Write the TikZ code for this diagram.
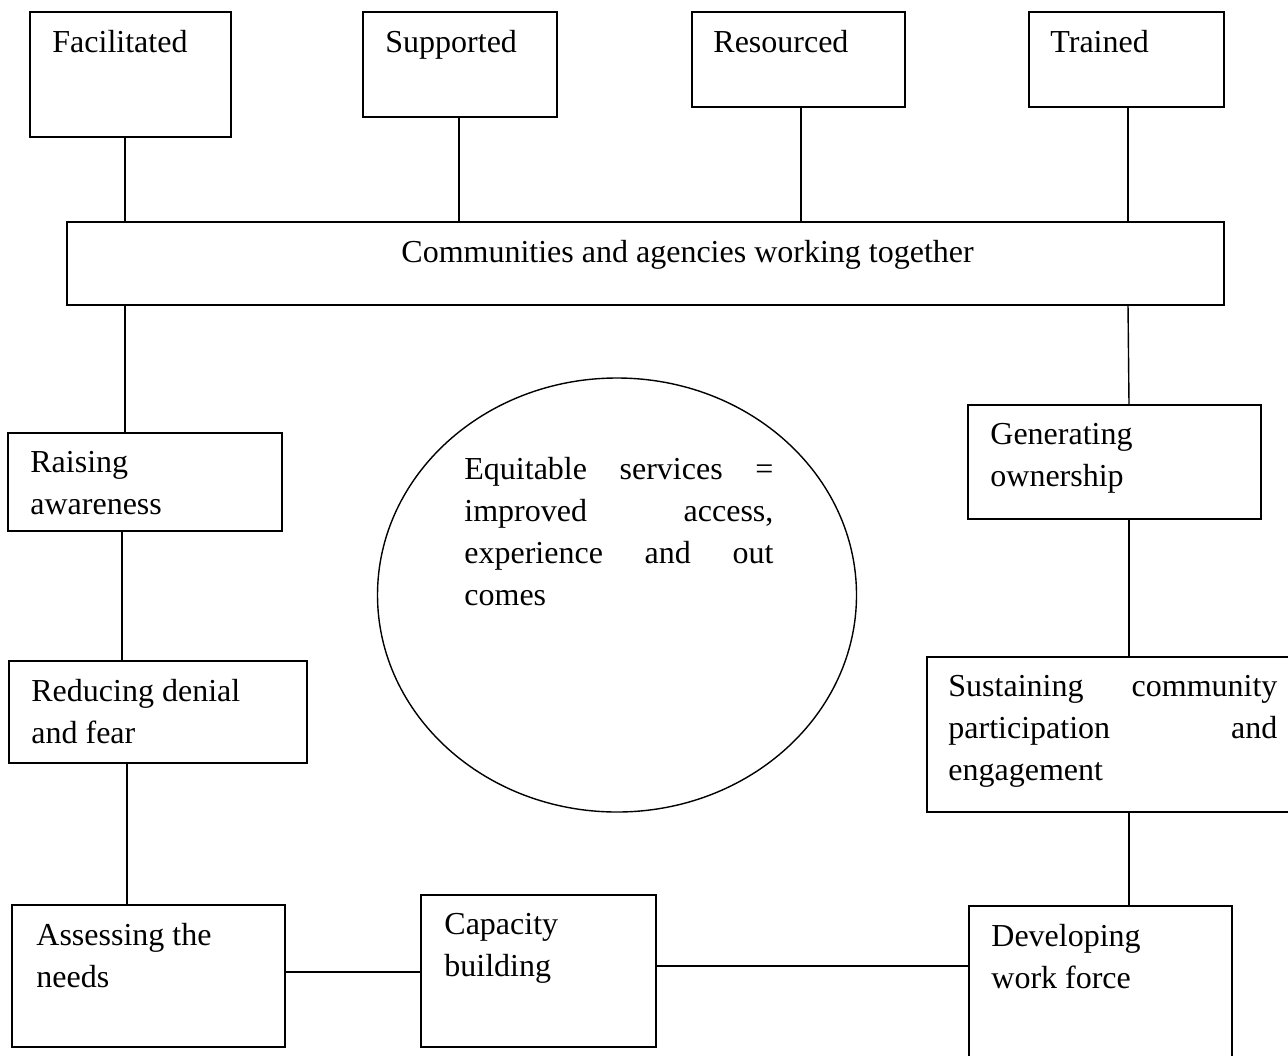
\documentclass[tikz,border=0pt]{standalone}
\usepackage{fontspec}
\setmainfont{Liberation Serif}
\usetikzlibrary{shapes.geometric}
\begin{document}
\begin{tikzpicture}[x=0.5pt,y=-0.5pt,
  bx/.style={draw,line width=0.7pt,inner sep=0pt,outer sep=0pt,anchor=north west},
  tx/.style={anchor=north west,inner sep=0pt,align=left,font=\fontsize{16}{21}\selectfont},
  ln/.style={line width=0.7pt}]
\useasboundingbox (0,0) rectangle (1288,1055);
% boxes
\node[bx,minimum width=100.5pt,minimum height=62.5pt] (fac) at (30,12) {};
\node[bx,minimum width=97pt,minimum height=52.5pt] (sup) at (363,12) {};
\node[bx,minimum width=106.5pt,minimum height=47.5pt] (res) at (692,12) {};
\node[bx,minimum width=97.5pt,minimum height=47.5pt] (tra) at (1029,12) {};
\node[bx,minimum width=578.5pt,minimum height=41.5pt] (com) at (67,222) {};
\node[bx,minimum width=137pt,minimum height=49pt] (rai) at (8,433) {};
\node[bx,minimum width=146.5pt,minimum height=57pt] (gen) at (968,405) {};
\node[bx,minimum width=149pt,minimum height=51pt] (red) at (9,661) {};
\node[bx,minimum width=186.5pt,minimum height=77.5pt] (sus) at (927,657) {};
\node[bx,minimum width=136.5pt,minimum height=71pt] (ass) at (12,905) {};
\node[bx,minimum width=117.5pt,minimum height=76pt] (cap) at (421,895) {};
\node[bx,minimum width=131.5pt,minimum height=79.5pt] (dev) at (969,906) {};
\node[draw,line width=0.7pt,ellipse,minimum width=239.5pt,minimum height=217pt,inner sep=0pt] (circ) at (617,595) {};
% texts
\node[tx] (facT) at (52,30) {Facilitated};
\node[tx] (supT) at (385,30) {Supported};
\node[tx] (resT) at (713,30) {Resourced};
\node[tx] (traT) at (1050,30) {Trained};
\node[tx] (comT) at (401,240) {Communities and agencies working together};
\node[tx] (raiT) at (30,451) {Raising\\awareness};
\node[tx] (genT) at (990,423) {Generating\\ownership};
\node[tx] (redT) at (31,679) {Reducing denial\\and fear};
\node[tx,text width=164.5pt] (susT) at (948,675) {Sustaining\hfill community\\participation\hfill and\\engagement};
\node[tx] (assT) at (36,923) {Assessing the\\needs};
\node[tx] (capT) at (444,913) {Capacity\\building};
\node[tx] (devT) at (991,924) {Developing\\work force};
\node[tx,text width=154.5pt] (circT) at (464,457) {Equitable\hfill services\hfill =\\improved\hfill access,\\experience\hfill and\hfill out\\comes};
% connector positions
\coordinate (xa) at (125,0);
\coordinate (xb) at (459,0);
\coordinate (xc) at (801,0);
\coordinate (xd) at (1128,0);
\coordinate (xe) at (122,0);
\coordinate (xf) at (127,0);
\coordinate (xg) at (1129,0);
\coordinate (ya) at (0,972);
\coordinate (yb) at (0,966);
% connectors
\draw[ln] (fac.south -| xa) -- (com.north -| xa);
\draw[ln] (sup.south -| xb) -- (com.north -| xb);
\draw[ln] (res.south -| xc) -- (com.north -| xc);
\draw[ln] (tra.south -| xd) -- (com.north -| xd);
\draw[ln] (com.south -| xa) -- (rai.north -| xa);
\draw[ln] (com.south -| xd) -- (gen.north -| xg);
\draw[ln] (rai.south -| xe) -- (red.north -| xe);
\draw[ln] (gen.south -| xg) -- (sus.north -| xg);
\draw[ln] (red.south -| xf) -- (ass.north -| xf);
\draw[ln] (sus.south -| xg) -- (dev.north -| xg);
\draw[ln] (ass.east |- ya) -- (cap.west |- ya);
\draw[ln] (cap.east |- yb) -- (dev.west |- yb);
\end{tikzpicture}
\end{document}
